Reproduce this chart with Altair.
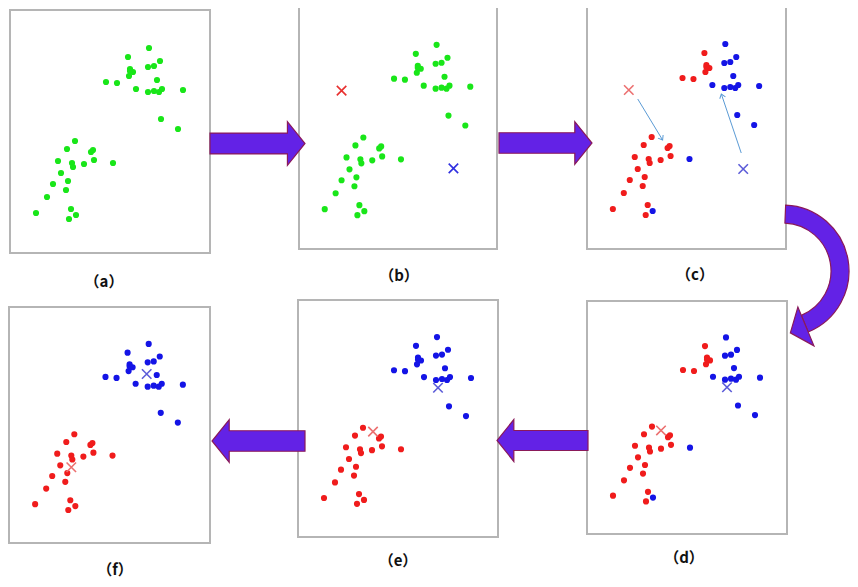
import math
import pandas as pd
import altair as alt

# ---------------- panel layout (page pixels) ----------------
panel_ids = ["a", "b", "c", "d", "e", "f"]
panel_x0 = [10, 299, 587, 587, 298, 9]
panel_y0 = [10, 7, 6, 301, 300, 307]
panel_w = [200, 198, 199, 200, 200, 201]
panel_h = [243, 242, 243, 233, 237, 236]
label_text = ["（a）", "（b）", "（c）", "（d）", "（e）", "（f）"]
label_x = [104, 399, 695, 684, 398, 115]
label_y = [282, 276, 275, 558, 561, 570]
REF_W, REF_H = 200, 243

# ---------------- sample points (reference panel coords, y down) ----------------
pt_x = [139, 118, 150, 138, 144, 120, 123, 119, 120, 147, 96, 107, 126, 138, 144, 149, 152, 173, 151, 168,
        65, 57, 83, 81, 48, 84, 62, 63, 74, 103, 51, 58, 43, 56, 37, 26, 61, 66, 59]
pt_y = [38, 47, 51, 57, 56, 59, 62, 66, 61, 70, 72, 73, 79, 82, 81, 82, 79, 80, 109, 119,
        131, 139, 140, 142, 151, 150, 153, 157, 154, 153, 163, 171, 174, 180, 187, 203, 199, 205, 209]
final_cluster = ["B"] * 20 + ["R"] * 19
first_cluster = ["B", "R", "B", "B", "B", "R", "R", "R", "R", "B", "R", "R", "B", "B", "B", "B", "B", "B", "B", "B",
                 "R", "R", "R", "R", "R", "R", "R", "R", "R", "B", "R", "R", "R", "R", "R", "R", "R", "B", "R"]
panel_labels = {
    "a": ["G"] * 39,
    "b": ["G"] * 39,
    "c": first_cluster,
    "d": first_cluster,
    "e": final_cluster,
    "f": final_cluster,
}
point_colors = {"G": "#19e619", "R": "#f01c1c", "B": "#1414e6"}

# ---------------- centroids ----------------
cen_panel = ["b", "b", "c", "c", "d", "d", "e", "e", "f", "f"]
cen_x = [43, 156, 42, 157, 74, 140, 75, 140, 62, 137]
cen_y = [84, 162, 84, 163, 135, 90, 135, 90, 165, 69]
cen_kind = ["Rs", "Bs", "Rl", "Bl", "Rl", "Bl", "Rl", "Bl", "Rl", "Bl"]
cen_colors = {"Rs": "#e8302f", "Bs": "#3030e0", "Rl": "#ec7070", "Bl": "#5c5cd8"}

# ---------------- centroid moves in (c) ----------------
move_x0 = [51, 155]
move_y0 = [93, 147]
move_x1 = [76, 135]
move_y1 = [134, 88]

# ---------------- block arrows between panels ----------------
big_cx = [257.5, 545.5, 542.5, 258.5]
big_cy = [143.5, 143, 440.5, 441]
big_len = [95, 93, 91, 93]
big_angle = [0, 0, 180, 180]

# curved arrow from (c) to (d)
arc_cx, arc_cy = 783, 271
arc_r_out, arc_r_in = 66, 48
arc_t0, arc_t1 = 0.04, 2.75

# ---------------- build tables ----------------
pinfo = {p: (x0, y0, w, h) for p, x0, y0, w, h in zip(panel_ids, panel_x0, panel_y0, panel_w, panel_h)}


def to_page(p, lx, ly):
    x0, y0, w, h = pinfo[p]
    return x0 + lx * w / REF_W, y0 + ly * h / REF_H


panels_df = pd.DataFrame({
    "x": panel_x0, "y": panel_y0,
    "x2": [a + b for a, b in zip(panel_x0, panel_w)],
    "y2": [a + b for a, b in zip(panel_y0, panel_h)],
})

rows = []
for p in panel_ids:
    for lx, ly, k in zip(pt_x, pt_y, panel_labels[p]):
        X, Y = to_page(p, lx, ly)
        rows.append({"X": X, "Y": Y, "col": point_colors[k]})
pts_df = pd.DataFrame(rows)

cen_rows = []
for p, lx, ly, k in zip(cen_panel, cen_x, cen_y, cen_kind):
    X, Y = to_page(p, lx, ly)
    cen_rows.append({"X": X, "Y": Y, "col": cen_colors[k]})
cen_df = pd.DataFrame(cen_rows)

mv_rows = []
for a, b, c, d in zip(move_x0, move_y0, move_x1, move_y1):
    X0, Y0 = to_page("c", a, b)
    X1, Y1 = to_page("c", c, d)
    ang = (math.degrees(math.atan2(Y1 - Y0, X1 - X0)) + 360) % 360
    mv_rows.append({"X0": X0, "Y0": Y0, "X1": X1, "Y1": Y1, "ang": ang})
mv_df = pd.DataFrame(mv_rows)

big_df = pd.DataFrame({"X": big_cx, "Y": big_cy, "size": [l * l for l in big_len], "ang": big_angle})

arc_df = pd.DataFrame({"X": [arc_cx], "Y": [arc_cy]})
head_s = 21
r_mid = (arc_r_out + arc_r_in) / 2 + 3
bx = arc_cx + r_mid * math.sin(arc_t1)
by = arc_cy - r_mid * math.cos(arc_t1)
tx, ty = math.cos(arc_t1), math.sin(arc_t1)
head_ang = (math.degrees(math.atan2(ty, tx)) - 180 + 360) % 360
head_df = pd.DataFrame({"X": [bx + 0.4 * head_s * tx], "Y": [by + 0.4 * head_s * ty],
                        "ang": [head_ang], "size": [(2 * head_s) ** 2]})

lab_df = pd.DataFrame({"X": label_x, "Y": label_y, "t": label_text})

# ---------------- chart ----------------
xs = alt.Scale(domain=[8, 850], nice=False, zero=False)
ys = alt.Scale(domain=[8, 579], nice=False, zero=False, reverse=True)


def X(f):
    return alt.X(f, type="quantitative", scale=xs, axis=None)


def Y(f):
    return alt.Y(f, type="quantitative", scale=ys, axis=None)


ARROW = "M -1 -0.22 L 0.63 -0.22 L 0.63 -0.46 L 1 0 L 0.63 0.46 L 0.63 0.22 L -1 0.22 Z"
HEAD = "M -0.4 0 L 0.4 -1 L 0.4 1 Z"
XMARK = "M -1 -1 L 1 1 M -1 1 L 1 -1"
CHEV = "M -1 -0.75 L 0 0 L -1 0.75"
FILL = "#6322e6"
EDGE = "#8a1a5a"

panels = alt.Chart(panels_df).mark_rect(fill="white", stroke="#b5b5b5", strokeWidth=2).encode(
    x=X("x"), x2="x2", y=Y("y"), y2="y2")

points = alt.Chart(pts_df).mark_circle(size=38, opacity=1).encode(
    x=X("X"), y=Y("Y"), color=alt.Color("col:N", scale=None))

cents = alt.Chart(cen_df).mark_point(shape=XMARK, size=90, filled=False, strokeWidth=1.6, opacity=1).encode(
    x=X("X"), y=Y("Y"), color=alt.Color("col:N", scale=None))

moves = alt.Chart(mv_df).mark_rule(color="#5b9bd5", strokeWidth=1).encode(
    x=X("X0"), y=Y("Y0"), x2="X1", y2="Y1")
move_heads = alt.Chart(mv_df).mark_point(shape=CHEV, size=64, filled=False, color="#5b9bd5",
                                         strokeWidth=1, opacity=1).encode(
    x=X("X1"), y=Y("Y1"), angle=alt.Angle("ang:Q", scale=None))

bigs = alt.Chart(big_df).mark_point(shape=ARROW, filled=True, fill=FILL, stroke=EDGE,
                                    strokeWidth=1.2, opacity=1, fillOpacity=1).encode(
    x=X("X"), y=Y("Y"), size=alt.Size("size:Q", scale=None, legend=None),
    angle=alt.Angle("ang:Q", scale=None))

curve = alt.Chart(arc_df).mark_arc(fill=FILL, stroke=EDGE, strokeWidth=1.2).encode(
    x=X("X"), y=Y("Y"),
    theta=alt.value(arc_t0), theta2=alt.value(arc_t1),
    radius=alt.value(arc_r_out), radius2=alt.value(arc_r_in))

curve_head = alt.Chart(head_df).mark_point(shape=HEAD, filled=True, fill=FILL, stroke=EDGE,
                                           strokeWidth=1.2, opacity=1, fillOpacity=1).encode(
    x=X("X"), y=Y("Y"), size=alt.Size("size:Q", scale=None, legend=None),
    angle=alt.Angle("ang:Q", scale=None))

labels = alt.Chart(lab_df).mark_text(font="Noto Sans CJK SC", fontWeight="bold", fontSize=15,
                                     color="#111111", baseline="middle", align="center").encode(
    x=X("X"), y=Y("Y"), text="t:N")

chart = alt.layer(panels, points, cents, moves, move_heads, bigs, curve, curve_head, labels).properties(
    width=842, height=571, padding=0,
    autosize=alt.AutoSizeParams(type="none"),
).configure_view(strokeWidth=0)

chart.save("out.html", embed_options={"renderer": "svg", "actions": False})
